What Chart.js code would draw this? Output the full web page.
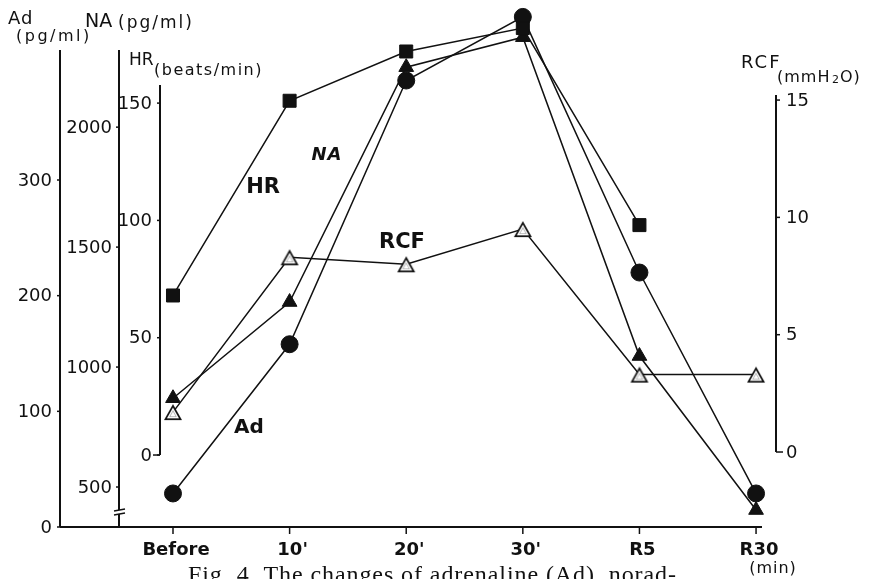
<!DOCTYPE html>
<html>
<head>
<meta charset="utf-8">
<script src="https://cdn.jsdelivr.net/npm/chart.js@4.4.0/dist/chart.umd.min.js"></script>
<style>
  html, body { margin: 0; padding: 0; background: #fff; }
  #wrap { width: 873px; height: 579px; }
</style>
</head>
<body>
<div id="wrap"><canvas id="fig4" width="873" height="579"></canvas></div>
<script>
// sampling times
const timeLabels = ['Before', "10'", "20'", "30'", 'R5', 'R30'];

// measured values per time point
const adValues  = [29, 158, 386, 441, 220, 29];        // Ad, pg/ml
const naValues  = [870, 1271, 2250, 2375, 1046, 404];  // NA, pg/ml
const hrValues  = [68, 151, 172, 182, 98, null];       // HR, beats/min
const rcfValues = [1.7, 8.3, 8.0, 9.5, 3.3, 3.3];      // RCF, mmH2O

// tick labels on each vertical axis
const adTicks  = [0, 100, 200, 300];
const naTicks  = [500, 1000, 1500, 2000];
const hrTicks  = [0, 50, 100, 150];
const rcfTicks = [0, 5, 10, 15];

const FONT = '"DejaVu Sans", sans-serif';
const INK = '#111';

const toPoints = (vals) => vals.map((v, i) => ({ x: i, y: v }));

// open triangle marker with a double outline
const openTriangle = (() => {
    const c = document.createElement('canvas');
    c.width = 20;
    c.height = 18;
    const g = c.getContext('2d');
    const tri = (d, color) => {
        g.beginPath();
        g.moveTo(10, 1 + d * 2);
        g.lineTo(19 - d * 1.73, 17 - d);
        g.lineTo(1 + d * 1.73, 17 - d);
        g.closePath();
        g.fillStyle = color;
        g.fill();
    };
    tri(0, INK);
    tri(1.7, '#fff');
    tri(3.0, '#aaa');
    tri(3.7, '#fff');
    return c;
})();

const line = (ctx, x1, y1, x2, y2) => {
    ctx.beginPath();
    ctx.moveTo(x1, y1);
    ctx.lineTo(x2, y2);
    ctx.stroke();
};

// vertical axis with ticks on the left side
const leftAxis = (ctx, scale, axisX, topY, bottomY, ticks, gap) => {
    ctx.lineWidth = 2;
    line(ctx, axisX, topY, axisX, bottomY);
    ctx.lineWidth = 1.5;
    ctx.font = '18px ' + FONT;
    ctx.textAlign = 'right';
    ctx.textBaseline = 'middle';
    ticks.forEach(t => {
        const y = scale.getPixelForValue(t);
        line(ctx, axisX - 3, y, axisX, y);
        ctx.fillText(String(t), axisX - gap, y + 1);
    });
};

const text = (ctx, str, x, y, font, align, spacing) => {
    ctx.font = font;
    ctx.textAlign = align || 'left';
    ctx.letterSpacing = (spacing || 0) + 'px';
    ctx.fillText(str, x, y);
    ctx.letterSpacing = '0px';
};

const paperAxes = {
    id: 'paperAxes',
    beforeDatasetsDraw(chart) {
        const { ctx, scales } = chart;
        const xs = scales.x;
        const baseY = scales.yAd.getPixelForValue(0);

        ctx.save();
        ctx.strokeStyle = INK;
        ctx.fillStyle = INK;

        // time axis
        ctx.lineWidth = 2;
        line(ctx, 60, baseY, 762, baseY);
        ctx.lineWidth = 1.5;
        ctx.textBaseline = 'middle';
        timeLabels.forEach((lab, i) => {
            const x = xs.getPixelForValue(i);
            line(ctx, x, baseY, x, baseY + 7);
            text(ctx, lab, x + 3, baseY + 23, 'bold 18px ' + FONT, 'center');
        });
        text(ctx, '(min)', 773, 569, '16px ' + FONT, 'center', 1);

        // Ad, NA and HR axes on the left
        leftAxis(ctx, scales.yAd, 60, 50, baseY, adTicks, 8);
        leftAxis(ctx, scales.yNA, 119, 50, baseY, naTicks, 7);
        const hr0 = scales.yHR.getPixelForValue(0);
        leftAxis(ctx, scales.yHR, 160, 85, hr0, hrTicks, 8);
        ctx.lineWidth = 1.5;
        line(ctx, 153, hr0, 160, hr0);

        // break mark on the NA axis
        ctx.fillStyle = '#fff';
        ctx.fillRect(114, 510, 11, 4);
        ctx.fillStyle = INK;
        ctx.lineWidth = 1.3;
        line(ctx, 114, 511, 125, 509);
        line(ctx, 114, 515, 125, 513);

        // RCF axis on the right
        const rcf0 = scales.yRCF.getPixelForValue(0);
        ctx.lineWidth = 2;
        line(ctx, 776, 95, 776, rcf0);
        ctx.lineWidth = 1.5;
        ctx.textBaseline = 'middle';
        rcfTicks.forEach(t => {
            const y = scales.yRCF.getPixelForValue(t);
            line(ctx, 776, y, t === 0 ? 783 : 780, y);
            text(ctx, String(t), 786, y + 1, '18px ' + FONT, 'left');
        });

        // axis titles
        ctx.textBaseline = 'alphabetic';
        text(ctx, 'Ad', 8, 24, '18px ' + FONT, 'left', 1);
        text(ctx, '(pg/ml)', 16, 41, '16px ' + FONT, 'left', 2.5);
        text(ctx, 'NA', 85, 27, '19px ' + FONT, 'left', 0);
        text(ctx, '(pg/ml)', 118, 28, '17px ' + FONT, 'left', 2);
        text(ctx, 'HR', 129, 65, '17px ' + FONT, 'left', 0);
        text(ctx, '(beats/min)', 154, 75, '16px ' + FONT, 'left', 1.5);
        text(ctx, 'RCF', 741, 68, '18px ' + FONT, 'left', 2);
        text(ctx, '(mmH', 777, 82, '16px ' + FONT, 'left', 1);
        text(ctx, '2', 832, 83, '11px ' + FONT, 'left', 0);
        text(ctx, 'O)', 840, 82, '16px ' + FONT, 'left', 1);

        // series names inside the plot
        ctx.textBaseline = 'middle';
        text(ctx, 'HR', 263, 188, 'bold 21px ' + FONT, 'center');
        text(ctx, 'NA', 327, 155, 'italic bold 18px ' + FONT, 'center', 1);
        text(ctx, 'RCF', 402, 243, 'bold 21px ' + FONT, 'center');
        text(ctx, 'Ad', 249, 428, 'bold 20px ' + FONT, 'center');

        // figure caption, spread to its printed width
        ctx.textBaseline = 'alphabetic';
        const cap = 'Fig. 4  The changes of adrenaline (Ad), norad-';
        const capFont = '24px "Liberation Serif", serif';
        ctx.font = capFont;
        const sp = (488 - ctx.measureText(cap).width) / (cap.length - 1);
        text(ctx, cap, 188, 582, capFont, 'left', sp);

        ctx.restore();
    }
};

const series = (label, values, axis, style, radius, fill) => ({
    label: label,
    data: toPoints(values),
    yAxisID: axis,
    borderColor: INK,
    borderWidth: 1.5,
    backgroundColor: fill,
    pointStyle: style,
    pointRadius: radius,
    pointBorderWidth: 1,
    pointBorderColor: INK,
    pointBackgroundColor: fill,
    tension: 0,
    spanGaps: false,
    clip: false
});

new Chart('fig4', {
    type: 'line',
    data: {
        datasets: [
            series('RCF', rcfValues, 'yRCF', openTriangle, 9, '#fff'),
            series('HR', hrValues, 'yHR', 'rect', 9.2, INK),
            series('NA', naValues, 'yNA', 'triangle', 8.5, INK),
            series('Ad', adValues, 'yAd', 'circle', 8.5, INK)
        ]
    },
    options: {
        responsive: false,
        animation: false,
        devicePixelRatio: 1,
        layout: {
            padding: { left: 60, right: 111, top: 10, bottom: 52 }
        },
        plugins: {
            legend: { display: false },
            tooltip: { enabled: false }
        },
        scales: {
            x: { type: 'linear', min: -0.969, max: 5.051, display: false },
            yAd: { type: 'linear', min: 0, max: 446.8, display: false },
            yNA: { type: 'linear', min: 333.3, max: 2487.5, display: false },
            yHR: { type: 'linear', min: -30.68, max: 189.6, display: false },
            yRCF: { type: 'linear', min: -3.196, max: 18.83, display: false }
        }
    },
    plugins: [paperAxes]
});
</script>
</body>
</html>
